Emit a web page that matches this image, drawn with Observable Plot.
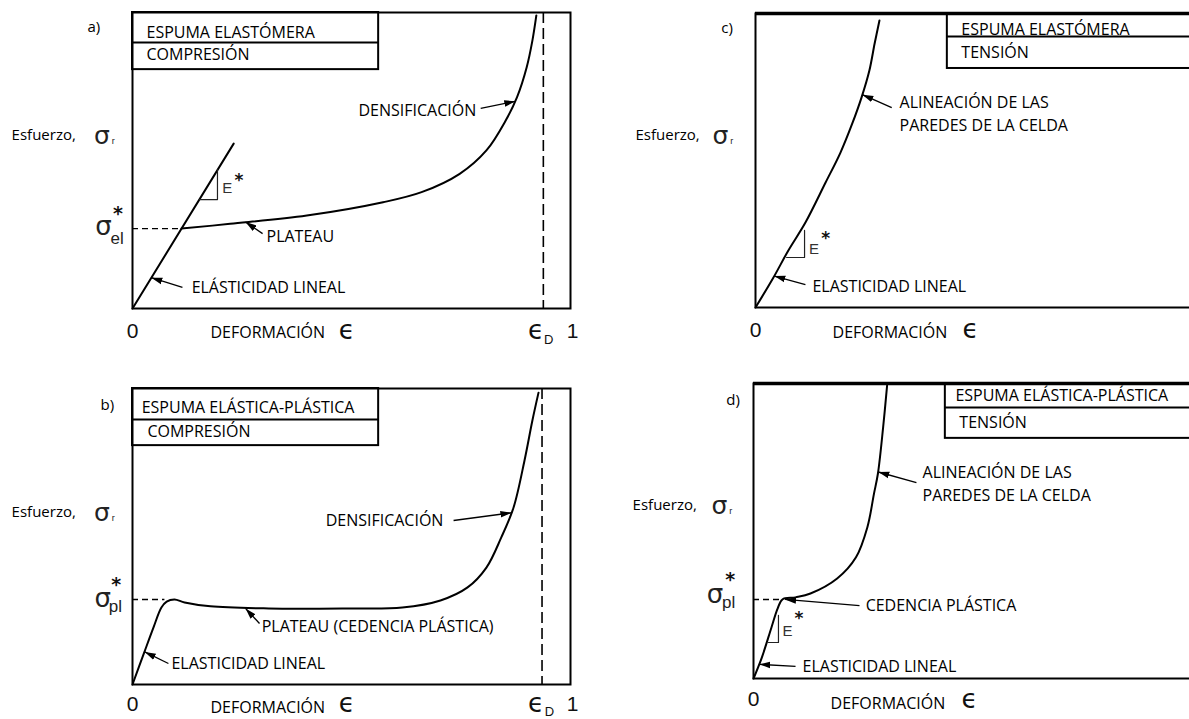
<!DOCTYPE html>
<html>
<head>
<meta charset="utf-8">
<script src="https://cdn.jsdelivr.net/npm/d3@7"></script>
<script src="https://cdn.jsdelivr.net/npm/@observablehq/plot@0.6"></script>
<style>
  html, body { margin: 0; padding: 0; background: #fff; overflow: hidden; }
  #fig { position: relative; width: 1189px; height: 719px; overflow: hidden; background: #fff; }
  #fig > svg { position: absolute; }
</style>
</head>
<body>
<div id="fig"></div>
<script>
// ---------------------------------------------------------------------------
// Schematic stress–strain curves of foams (strain and stress normalised 0–1)
// ---------------------------------------------------------------------------

// a) elastomeric foam in compression
const elasticStrainA = [0, 0.231];
const elasticStressA = [0, 0.557];
const plateauStrainA = [0.112, 0.223, 0.398, 0.572, 0.660, 0.747, 0.808, 0.852, 0.878, 0.900, 0.913, 0.922];
const plateauStressA = [0.270, 0.286, 0.314, 0.359, 0.393, 0.455, 0.534, 0.635, 0.714, 0.815, 0.905, 0.990];
const sigmaElA = 0.270;
const densStrainA = 0.938;

// b) elastic-plastic foam in compression
const strainB = [0, 0.026, 0.048, 0.066, 0.078, 0.096, 0.119, 0.178, 0.311, 0.484, 0.616, 0.703, 0.765, 0.808, 0.842, 0.870, 0.895, 0.913, 0.927];
const stressB = [0, 0.105, 0.193, 0.260, 0.280, 0.287, 0.277, 0.264, 0.257, 0.257, 0.260, 0.284, 0.328, 0.395, 0.497, 0.598, 0.757, 0.892, 0.986];
const sigmaPlB = 0.287;
const densStrainB = 0.935;

// c) elastomeric foam in tension
const strainC = [0, 0.041, 0.075, 0.114, 0.160, 0.194, 0.221, 0.242, 0.260, 0.272, 0.283];
const stressC = [0, 0.102, 0.194, 0.289, 0.425, 0.527, 0.626, 0.714, 0.806, 0.898, 0.976];

// d) elastic-plastic foam in tension
const strainD = [0, 0.019, 0.041, 0.055, 0.066, 0.096, 0.130, 0.191, 0.234, 0.260, 0.275, 0.284, 0.296, 0.305];
const stressD = [0, 0.071, 0.173, 0.237, 0.268, 0.275, 0.288, 0.339, 0.411, 0.513, 0.626, 0.694, 0.852, 0.993];
const sigmaPlD = 0.268;

// axis wording
const yAxisWord = "Esfuerzo,";
const xAxisWord = "DEFORMACIÓN";

// ---------------------------------------------------------------------------
// annotation layout (label anchors and leader arrows, in data units)
// ---------------------------------------------------------------------------
const panels = [
  {
    key: "a)", left: 0, top: 0, width: 600, height: 360,
    margin: {top: 12, right: 30, bottom: 52, left: 132},
    curves: [
      {x: elasticStrainA, y: elasticStressA, curve: "linear"},
      {x: plateauStrainA, y: plateauStressA, curve: "catmull-rom"}
    ],
    sigmaLine: {y: sigmaElA, x2: 0.112, sub: "el"},
    densLine: densStrainA,
    box: {x1: 0, x2: 0.562, y1: 0.807, div: 0.899},
    boxText: [{t: "ESPUMA ELASTÓMERA", x: 0.032, y: 0.932}, {t: "COMPRESIÓN", x: 0.032, y: 0.858}],
    labels: [
      {t: "DENSIFICACIÓN", x: 0.516, y: 0.669},
      {t: "PLATEAU", x: 0.306, y: 0.243},
      {t: "ELÁSTICIDAD LINEAL", x: 0.135, y: 0.068}
    ],
    arrows: [
      {x1: 0.795, y1: 0.676, x2: 0.874, y2: 0.700},
      {x1: 0.297, y1: 0.253, x2: 0.258, y2: 0.292},
      {x1: 0.114, y1: 0.071, x2: 0.043, y2: 0.104}
    ],
    triangle: [[0.153, 0.368], [0.194, 0.368], [0.194, 0.468]],
    eStar: {x: 0.205, y: 0.405, sx: 0.243, sy: 0.432},
    tag: {x: -0.103, y: 0.949},
    yWord: {x: -0.276, y: 0.584, sx: -0.070},
    sigmaLabel: {x: -0.066, y: 0.277, starX: -0.033, starY: 0.318, subx: -0.050, suby: 0.236},
    xRow: -0.076, xWordY: -0.084, xWordX: 0.178, epsX: 0.489,
    epsD: {x: 0.921, dx: 0.950, dy: -0.106}
  },
  {
    key: "b)", left: 0, top: 360, width: 600, height: 359,
    margin: {top: 28, right: 30, bottom: 35, left: 132},
    curves: [{x: strainB, y: stressB, curve: "catmull-rom"}],
    sigmaLine: {y: sigmaPlB, x2: 0.074, sub: "pl"},
    densLine: densStrainB,
    box: {x1: 0, x2: 0.562, y1: 0.807, div: 0.895},
    boxText: [{t: "ESPUMA ELÁSTICA-PLÁSTICA", x: 0.021, y: 0.936}, {t: "COMPRESIÓN", x: 0.034, y: 0.855}],
    labels: [
      {t: "DENSIFICACIÓN", x: 0.441, y: 0.554},
      {t: "PLATEAU (CEDENCIA PLÁSTICA)", x: 0.295, y: 0.193},
      {t: "ELASTICIDAD LINEAL", x: 0.089, y: 0.068}
    ],
    arrows: [
      {x1: 0.733, y1: 0.554, x2: 0.865, y2: 0.580},
      {x1: 0.290, y1: 0.206, x2: 0.258, y2: 0.257},
      {x1: 0.082, y1: 0.071, x2: 0.028, y2: 0.110}
    ],
    triangle: null,
    tag: {x: -0.073, y: 0.943},
    yWord: {x: -0.276, y: 0.581, sx: -0.070},
    sigmaLabel: {x: -0.068, y: 0.291, starX: -0.037, starY: 0.338, subx: -0.054, suby: 0.262},
    xRow: -0.066, xWordY: -0.078, xWordX: 0.178, epsX: 0.489,
    epsD: {x: 0.921, dx: 0.952, dy: -0.094}
  },
  {
    key: "c)", left: 600, top: 0, width: 600, height: 360,
    margin: {top: 13, right: 7, bottom: 53, left: 155},
    curves: [{x: strainC, y: stressC, curve: "catmull-rom"}],
    sigmaLine: null,
    densLine: null,
    box: {x1: 0.438, x2: 1, y1: 0.813, div: 0.922},
    boxText: [{t: "ESPUMA ELASTÓMERA", x: 0.470, y: 0.946}, {t: "TENSIÓN", x: 0.470, y: 0.867}],
    labels: [
      {t: "ALINEACIÓN DE LAS", x: 0.329, y: 0.697},
      {t: "PAREDES DE LA CELDA", x: 0.329, y: 0.619},
      {t: "ELASTICIDAD LINEAL", x: 0.130, y: 0.071}
    ],
    arrows: [
      {x1: 0.311, y1: 0.680, x2: 0.244, y2: 0.724},
      {x1: 0.114, y1: 0.078, x2: 0.043, y2: 0.107}
    ],
    triangle: [[0.071, 0.170], [0.112, 0.170], [0.112, 0.262]],
    eStar: {x: 0.122, y: 0.200, sx: 0.160, sy: 0.236},
    tag: {x: -0.078, y: 0.949},
    yWord: {x: -0.274, y: 0.585, sx: -0.080},
    sigmaLabel: null,
    xRow: -0.076, xWordY: -0.088, xWordX: 0.176, epsX: 0.491,
    epsD: null, thickTop: true
  },
  {
    key: "d)", left: 600, top: 360, width: 600, height: 359,
    margin: {top: 23, right: 9, bottom: 41, left: 153},
    curves: [{x: strainD, y: stressD, curve: "catmull-rom"}],
    sigmaLine: {y: sigmaPlD, x2: 0.066, sub: "pl"},
    densLine: null,
    box: {x1: 0.438, x2: 1, y1: 0.814, div: 0.919},
    boxText: [{t: "ESPUMA ELÁSTICA-PLÁSTICA", x: 0.461, y: 0.959}, {t: "TENSIÓN", x: 0.470, y: 0.868}],
    labels: [
      {t: "ALINEACIÓN DE LAS", x: 0.386, y: 0.698},
      {t: "PAREDES DE LA CELDA", x: 0.386, y: 0.620},
      {t: "CEDENCIA PLÁSTICA", x: 0.256, y: 0.247},
      {t: "ELASTICIDAD LINEAL", x: 0.112, y: 0.041}
    ],
    arrows: [
      {x1: 0.372, y1: 0.664, x2: 0.285, y2: 0.700},
      {x1: 0.242, y1: 0.247, x2: 0.072, y2: 0.268},
      {x1: 0.096, y1: 0.041, x2: 0.013, y2: 0.048}
    ],
    triangle: [[0.034, 0.122], [0.057, 0.122], [0.057, 0.214]],
    eStar: {x: 0.066, y: 0.160, sx: 0.104, sy: 0.204},
    tag: {x: -0.062, y: 0.942},
    yWord: {x: -0.276, y: 0.586, sx: -0.078},
    sigmaLabel: {x: -0.088, y: 0.285, starX: -0.053, starY: 0.335, subx: -0.072, suby: 0.258},
    xRow: -0.072, xWordY: -0.085, xWordX: 0.176, epsX: 0.493,
    epsD: null, thickTop: true
  }
];

const SANS = "'Open Sans', sans-serif";
const SYM = "'Liberation Sans', Arial, sans-serif";
const GREEK = "'DejaVu Sans', sans-serif";

// small filled arrowhead used on the leader lines
function filledArrow(color) {
  const m = d3.create("svg:marker")
    .attr("viewBox", "-11 -4 11 8")
    .attr("markerWidth", 11)
    .attr("markerHeight", 8)
    .attr("markerUnits", "userSpaceOnUse")
    .attr("orient", "auto")
    .attr("fill", color)
    .attr("stroke", "none");
  m.append("path").attr("d", "M-11,-3.3L0,0L-11,3.3Z");
  return m.node();
}

function buildPanel(p, arrowMarker) {
  const marks = [];

  // frame (axes box)
  marks.push(Plot.frame({stroke: "#000", strokeWidth: 2}));
  if (p.thickTop) marks.push(Plot.ruleY([1], {stroke: "#000", strokeWidth: 3.5}));

  // title box
  marks.push(Plot.rect([p.box], {x1: "x1", x2: "x2", y1: "y1", y2: () => 1, fill: "none", stroke: "#000", strokeWidth: 2}));
  marks.push(Plot.ruleY([p.box], {y: "div", x1: "x1", x2: "x2", stroke: "#000", strokeWidth: 2}));
  marks.push(Plot.text(p.boxText, {x: "x", y: "y", text: "t", textAnchor: "start", fontFamily: SANS, fontSize: 16, fill: "#000"}));

  // dashed guides
  if (p.densLine != null) {
    marks.push(Plot.ruleX([p.densLine], {stroke: "#000", strokeWidth: 1.6, strokeDasharray: "11,5"}));
  }
  if (p.sigmaLine) {
    marks.push(Plot.ruleY([p.sigmaLine], {y: "y", x1: () => 0, x2: "x2", stroke: "#000", strokeWidth: 1.4, strokeDasharray: "6,4"}));
  }

  // stress–strain curves
  for (const c of p.curves) {
    const pts = c.x.map((x, i) => ({x, y: c.y[i]}));
    marks.push(Plot.line(pts, {x: "x", y: "y", curve: c.curve, stroke: "#000", strokeWidth: 2}));
  }

  // modulus triangle
  if (p.triangle) {
    marks.push(Plot.line(p.triangle, {x: d => d[0], y: d => d[1], stroke: "#222", strokeWidth: 1.2}));
    marks.push(Plot.text([p.eStar], {x: "x", y: "y", text: () => "E", textAnchor: "start", fontFamily: SYM, fontSize: 15, fill: "#333"}));
    marks.push(Plot.text([p.eStar], {x: "sx", y: "sy", text: () => "*", textAnchor: "middle", fontFamily: GREEK, fontWeight: "bold", fontSize: 17, fill: "#111"}));
  }

  // leader arrows and their labels
  marks.push(Plot.link(p.arrows, {x1: "x1", y1: "y1", x2: "x2", y2: "y2", stroke: "#000", strokeWidth: 1.3, markerEnd: arrowMarker}));
  marks.push(Plot.text(p.labels, {x: "x", y: "y", text: "t", textAnchor: "start", fontFamily: SANS, fontSize: 16, fill: "#000"}));

  // panel tag and y axis wording
  marks.push(Plot.text([p.tag], {x: "x", y: "y", text: () => p.key, textAnchor: "start", fontFamily: SANS, fontSize: 15, fill: "#000"}));
  marks.push(Plot.text([p.yWord], {x: "x", y: "y", text: () => yAxisWord, textAnchor: "start", fontFamily: SANS, fontSize: 15, fill: "#000"}));
  marks.push(Plot.text([p.yWord], {x: "sx", y: "y", text: () => "σ", textAnchor: "middle", fontFamily: GREEK, fontSize: 25, fill: "#222"}));
  marks.push(Plot.text([p.yWord], {x: d => d.sx + 0.026, y: d => d.y - 0.018, text: () => "r", textAnchor: "middle", fontFamily: SYM, fontSize: 9, fill: "#222"}));

  // yield / elastic-collapse stress label
  if (p.sigmaLabel) {
    const s = p.sigmaLabel;
    marks.push(Plot.text([s], {x: "x", y: "y", text: () => "σ", textAnchor: "middle", fontFamily: GREEK, fontSize: 26, fill: "#222"}));
    marks.push(Plot.text([s], {x: "starX", y: "starY", text: () => "*", textAnchor: "middle", fontFamily: GREEK, fontWeight: "bold", fontSize: 19, fill: "#111"}));
    marks.push(Plot.text([s], {x: "subx", y: "suby", text: () => p.sigmaLine.sub, textAnchor: "start", fontFamily: SYM, fontSize: 17, fill: "#222"}));
  }

  // x axis wording and ticks
  const row = [{y: p.xRow}];
  marks.push(Plot.text(row, {x: () => 0, y: "y", text: () => "0", textAnchor: "middle", fontFamily: SYM, fontSize: 21, fill: "#111"}));
  marks.push(Plot.text(row, {x: () => p.xWordX, y: () => p.xWordY, text: () => xAxisWord, textAnchor: "start", fontFamily: SANS, fontSize: 16, fill: "#000"}));
  marks.push(Plot.text(row, {x: () => p.epsX, y: "y", text: () => "ϵ", textAnchor: "middle", fontFamily: GREEK, fontSize: 26, fill: "#111"}));
  if (p.epsD) {
    marks.push(Plot.text(row, {x: () => p.epsD.x, y: "y", text: () => "ϵ", textAnchor: "middle", fontFamily: GREEK, fontSize: 26, fill: "#111"}));
    marks.push(Plot.text(row, {x: () => p.epsD.dx, y: () => p.epsD.dy, text: () => "D", textAnchor: "middle", fontFamily: SYM, fontSize: 13, fill: "#111"}));
    marks.push(Plot.text(row, {x: () => 1.005, y: "y", text: () => "1", textAnchor: "middle", fontFamily: SYM, fontSize: 21, fill: "#111"}));
  }

  const svg = Plot.plot({
    width: p.width,
    height: p.height,
    marginTop: p.margin.top,
    marginRight: p.margin.right,
    marginBottom: p.margin.bottom,
    marginLeft: p.margin.left,
    x: {domain: [0, 1], axis: null},
    y: {domain: [0, 1], axis: null},
    style: {background: "transparent", overflow: "visible"},
    marks
  });
  svg.style.left = p.left + "px";
  svg.style.top = p.top + "px";
  return svg;
}

const fig = document.getElementById("fig");
for (const p of panels) {
  let svg;
  try {
    svg = buildPanel(p, filledArrow);
  } catch (e) {
    svg = buildPanel(p, "arrow");
  }
  fig.appendChild(svg);
}
</script>
</body>
</html>
